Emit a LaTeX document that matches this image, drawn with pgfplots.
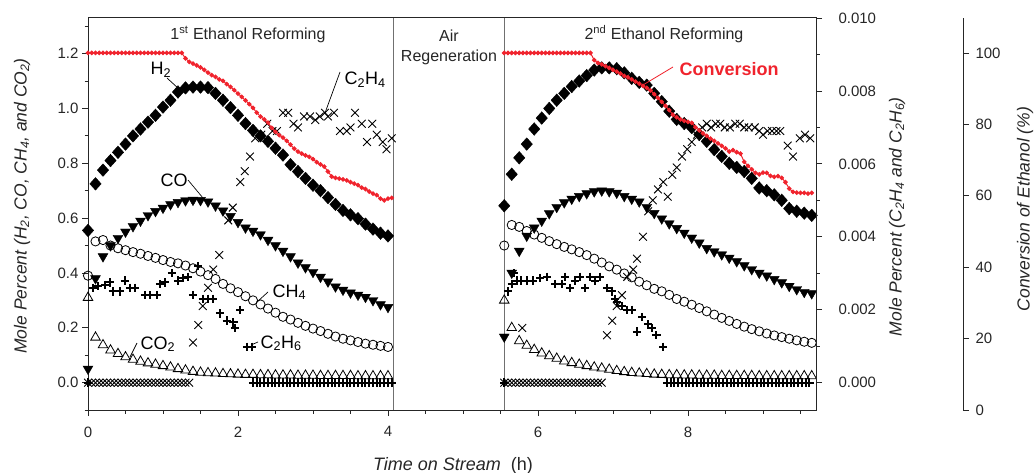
\documentclass[border=0pt]{standalone}
\usepackage{pgfplots}
\pgfplotsset{compat=1.18}
\usepackage{pgfplotstable}
\usepackage{fontspec}
\setmainfont{Liberation Sans}
\definecolor{convred}{HTML}{F0232D}
\definecolor{divgray}{HTML}{707070}

% first reforming: t, H2, CO, CH4, CO2 (mole percent)
\pgfplotstableread{
t H2 CO CH4 CO2
0.0 0.555 0.05 0.39 0.31
0.1 0.725 0.38 0.515 0.165
0.2 0.775 0.46 0.52 0.137
0.3 0.81 0.50 0.50 0.118
0.4 0.84 0.527 0.49 0.105
0.5 0.87 0.55 0.483 0.093
0.6 0.90 0.57 0.476 0.084
0.7 0.925 0.59 0.47 0.077
0.8 0.95 0.61 0.462 0.071
0.9 0.975 0.625 0.455 0.066
1.0 1.005 0.637 0.447 0.061
1.1 1.03 0.65 0.44 0.056
1.2 1.06 0.658 0.435 0.05
1.3 1.075 0.664 0.427 0.045
1.4 1.078 0.666 0.417 0.04
1.5 1.078 0.665 0.405 0.037
1.6 1.076 0.66 0.392 0.035
1.7 1.055 0.645 0.378 0.034
1.8 1.03 0.627 0.36 0.032
1.9 1.003 0.607 0.344 0.031
2.0 0.975 0.585 0.33 0.030
2.1 0.945 0.565 0.315 0.029
2.2 0.92 0.553 0.30 0.029
2.3 0.90 0.54 0.285 0.028
2.4 0.88 0.52 0.27 0.028
2.5 0.855 0.50 0.255 0.027
2.6 0.83 0.48 0.24 0.027
2.7 0.795 0.46 0.23 0.027
2.8 0.77 0.437 0.218 0.026
2.9 0.745 0.42 0.207 0.026
3.0 0.72 0.403 0.197 0.026
3.1 0.70 0.385 0.188 0.025
3.2 0.675 0.368 0.178 0.025
3.3 0.65 0.35 0.168 0.025
3.4 0.628 0.338 0.16 0.025
3.5 0.612 0.328 0.154 0.025
3.6 0.598 0.32 0.148 0.024
3.7 0.578 0.312 0.142 0.024
3.8 0.56 0.30 0.138 0.024
3.9 0.545 0.285 0.134 0.024
4.0 0.535 0.275 0.13 0.024
}\segA

% second reforming
\pgfplotstableread{
t H2 CO CH4 CO2
5.55 0.645 0.167 0.50 0.30
5.65 0.76 0.40 0.575 0.20
5.75 0.82 0.48 0.568 0.152
5.85 0.87 0.535 0.553 0.135
5.95 0.925 0.565 0.54 0.12
6.05 0.965 0.59 0.528 0.107
6.15 1.00 0.617 0.516 0.097
6.25 1.03 0.64 0.505 0.088
6.35 1.055 0.657 0.495 0.078
6.45 1.08 0.67 0.486 0.072
6.55 1.10 0.68 0.476 0.066
6.65 1.12 0.69 0.465 0.061
6.75 1.14 0.697 0.452 0.056
6.85 1.148 0.70 0.438 0.052
6.95 1.148 0.697 0.424 0.048
7.05 1.145 0.692 0.412 0.043
7.15 1.13 0.68 0.398 0.039
7.25 1.11 0.67 0.384 0.036
7.35 1.095 0.66 0.368 0.034
7.45 1.085 0.64 0.355 0.032
7.55 1.055 0.618 0.342 0.030
7.65 1.025 0.598 0.333 0.029
7.75 0.99 0.58 0.32 0.028
7.85 0.96 0.563 0.305 0.028
7.95 0.945 0.546 0.295 0.027
8.05 0.93 0.528 0.284 0.027
8.15 0.905 0.51 0.272 0.026
8.25 0.88 0.49 0.26 0.026
8.35 0.85 0.478 0.248 0.026
8.45 0.825 0.467 0.236 0.025
8.55 0.80 0.455 0.225 0.025
8.65 0.785 0.442 0.214 0.025
8.75 0.77 0.427 0.204 0.025
8.85 0.745 0.413 0.195 0.025
8.95 0.71 0.40 0.187 0.024
9.05 0.70 0.39 0.179 0.024
9.15 0.685 0.377 0.172 0.024
9.25 0.665 0.365 0.166 0.024
9.35 0.635 0.352 0.16 0.024
9.45 0.625 0.34 0.154 0.024
9.55 0.618 0.33 0.149 0.024
9.65 0.61 0.325 0.145 0.024
}\segB

\begin{document}
\begin{tikzpicture}[x=1pt,y=1pt]
\useasboundingbox (0,0) rectangle (1034,472);
\pgfplotsset{
  base/.style={at={(88pt,62pt)}, anchor=south west, width=728pt, height=392pt,
    scale only axis, xmin=0, xmax=9.707, clip=false,
    tick label style={font=\fontsize{15}{18}\selectfont, black!85},
    /pgf/number format/assume math mode=true,
    major tick length=6pt, minor tick length=3.5pt, tick align=outside,
    axis line style={line width=1pt, black!85},
    every tick/.style={line width=0.8pt, black!85}},
  h2/.style={only marks, mark=diamond*, mark size=6.3pt, black, mark options={xscale=1.2}},
  co/.style={only marks, mark=triangle*, mark size=5.7pt, black, mark options={rotate=180}},
  ch4/.style={only marks, mark=o, mark size=4.6pt, black, mark options={line width=0.8pt}},
  co2/.style={only marks, mark=triangle, mark size=5.5pt, black, mark options={line width=0.8pt}},
  c2h4/.style={only marks, mark=x, mark size=5.5pt, black, mark options={line width=0.9pt}},
  c2h6/.style={only marks, mark=+, mark size=4.2pt, black, mark options={line width=2pt}},
  conv/.style={convred, line width=1pt, mark=*, mark size=1.8pt, mark options={convred}},
}

% ---- axis 1: H2, CO, CH4, CO2 (left scale)
\begin{axis}[base, ymin=-0.1, ymax=1.33, tick pos=left,
  xtick={0,2,4,6,8},
  minor xtick={0.5,1,1.5,2.5,3,3.5,4.5,5,5.5,6.5,7,7.5,8.5,9,9.5},
  xticklabel style={yshift=-7pt},
  ytick={0,0.2,0.4,0.6,0.8,1.0,1.2},
  minor ytick={-0.1,0.1,0.3,0.5,0.7,0.9,1.1,1.3},
  yticklabel style={/pgf/number format/fixed, /pgf/number format/fixed zerofill, /pgf/number format/precision=1}]
\draw[divgray, line width=1pt] (axis cs:4.08,-0.1) -- (axis cs:4.08,1.33);
\draw[divgray, line width=1pt] (axis cs:5.55,-0.1) -- (axis cs:5.55,1.33);
\addplot[co2] table[x=t, y=CO2] {\segA};
\addplot[co2] table[x=t, y=CO2] {\segB};
\addplot[ch4] table[x=t, y=CH4] {\segA};
\addplot[ch4] table[x=t, y=CH4] {\segB};
\addplot[co] table[x=t, y=CO] {\segA};
\addplot[co] table[x=t, y=CO] {\segB};
\addplot[h2] table[x=t, y=H2] {\segA};
\addplot[h2] table[x=t, y=H2] {\segB};
\end{axis}

% ---- axis 2: C2H4, C2H6 (right scale)
\begin{axis}[base, ymin=-0.00075, ymax=0.010, axis y line*=right, axis x line=none,
  y axis line style={-},
  ytick={0,0.002,0.004,0.006,0.008,0.010},
  minor ytick={0.001,0.003,0.005,0.007,0.009},
  scaled y ticks=false,
  yticklabel style={xshift=13pt, /pgf/number format/fixed, /pgf/number format/fixed zerofill, /pgf/number format/precision=3}]
% C2H4, first reforming
\addplot[c2h4] coordinates {(0,0) (0.05,0) (0.10,0) (0.15,0) (0.20,0) (0.25,0) (0.30,0) (0.35,0) (0.40,0) (0.45,0) (0.50,0) (0.55,0) (0.60,0) (0.65,0) (0.70,0) (0.75,0) (0.80,0) (0.85,0) (0.90,0) (0.95,0) (1.00,0) (1.05,0) (1.10,0) (1.15,0) (1.20,0) (1.25,0) (1.30,0) (1.35,0)
 (1.40,0.0011) (1.47,0.00158) (1.53,0.0021) (1.60,0.0026) (1.67,0.0031) (1.75,0.0035) (1.87,0.00445) (1.93,0.0048) (2.03,0.0055) (2.09,0.0058) (2.16,0.0062) (2.23,0.0067) (2.31,0.0068) (2.39,0.0071) (2.46,0.0069) (2.52,0.0069) (2.60,0.0074) (2.67,0.0074) (2.74,0.0071) (2.80,0.0070) (2.88,0.0073) (2.96,0.0073) (3.03,0.0072) (3.09,0.0073) (3.16,0.0074) (3.20,0.0073) (3.28,0.0074) (3.36,0.0069) (3.45,0.0069) (3.50,0.0070) (3.56,0.0074) (3.65,0.0071) (3.72,0.0066) (3.79,0.0071) (3.85,0.0068) (3.93,0.0066) (3.98,0.0064) (4.05,0.0067)};
% C2H4, second reforming
\addplot[c2h4] coordinates {(5.55,0) (5.60,0) (5.65,0) (5.70,0) (5.75,0) (5.80,0) (5.85,0) (5.90,0) (5.95,0) (6.00,0) (6.05,0) (6.10,0) (6.15,0) (6.20,0) (6.25,0) (6.30,0) (6.35,0) (6.40,0) (6.45,0) (6.50,0) (6.55,0) (6.60,0) (6.65,0) (6.70,0) (6.75,0) (6.80,0) (6.85,0) (5.79,0.0015)
 (6.92,0.0013) (6.99,0.0017) (7.05,0.0021) (7.12,0.0024) (7.19,0.0029) (7.27,0.0031) (7.32,0.0034) (7.40,0.0040) (7.47,0.0047) (7.53,0.0050) (7.60,0.0053) (7.67,0.0055) (7.73,0.0051) (7.79,0.0057) (7.85,0.0059) (7.92,0.0062) (7.99,0.0064) (8.05,0.0066) (8.12,0.0068) (8.19,0.0070) (8.25,0.0071) (8.31,0.0070) (8.37,0.0071) (8.43,0.0071) (8.49,0.0070) (8.56,0.0070) (8.63,0.0071) (8.69,0.0071) (8.75,0.0070) (8.81,0.0070) (8.89,0.0070) (8.95,0.0069) (9.00,0.0068) (9.06,0.0069) (9.12,0.0069) (9.18,0.0069) (9.23,0.0069) (9.33,0.0065) (9.40,0.0062) (9.49,0.0067) (9.56,0.0068) (9.63,0.0067)};
% C2H6, first reforming
\addplot[c2h6] coordinates {(0,0) (0.07,0.0026) (0.13,0.00265) (0.23,0.00268) (0.29,0.00275) (0.33,0.0025) (0.43,0.0025) (0.49,0.0028) (0.56,0.0026) (0.63,0.0026) (0.76,0.0024) (0.83,0.0024) (0.92,0.0024) (0.96,0.0027) (1.03,0.00275) (1.12,0.0030) (1.20,0.0028) (1.27,0.00287) (1.33,0.0029) (1.40,0.0024) (1.47,0.0032) (1.53,0.0023) (1.60,0.0023) (1.67,0.0023) (1.76,0.0019) (1.85,0.0017) (1.94,0.00165) (1.96,0.0015) (2.03,0.0020) (2.12,0.00098) (2.19,0.00098)
 (2.20,0) (2.25,0) (2.30,0) (2.35,0) (2.40,0) (2.45,0) (2.50,0) (2.55,0) (2.60,0) (2.65,0) (2.70,0) (2.75,0) (2.80,0) (2.85,0) (2.90,0) (2.95,0) (3.00,0) (3.05,0) (3.10,0) (3.15,0) (3.20,0) (3.25,0) (3.30,0) (3.35,0) (3.40,0) (3.45,0) (3.50,0) (3.55,0) (3.60,0) (3.65,0) (3.70,0) (3.75,0) (3.80,0) (3.85,0) (3.90,0) (3.95,0) (4.00,0) (4.05,0)};
% C2H6, second reforming
\addplot[c2h6] coordinates {(5.55,0) (5.60,0.0025) (5.65,0.0027) (5.68,0.0030) (5.72,0.0028) (5.78,0.0028) (5.85,0.0028) (5.93,0.0028) (6.03,0.00287) (6.12,0.0029) (6.23,0.0027) (6.32,0.0027) (6.36,0.0029) (6.43,0.0026) (6.49,0.0028) (6.56,0.0029) (6.63,0.0026) (6.69,0.0029) (6.76,0.0028) (6.83,0.0029) (6.92,0.0026) (6.99,0.0025) (7.03,0.0023) (7.05,0.0022) (7.12,0.0021) (7.19,0.0020) (7.25,0.0020) (7.32,0.0014) (7.39,0.0018) (7.47,0.0016) (7.52,0.0015) (7.58,0.0013) (7.67,0.00098)
 (7.72,0) (7.77,0) (7.82,0) (7.87,0) (7.92,0) (7.97,0) (8.02,0) (8.07,0) (8.12,0) (8.17,0) (8.22,0) (8.27,0) (8.32,0) (8.37,0) (8.42,0) (8.47,0) (8.52,0) (8.57,0) (8.62,0) (8.67,0) (8.72,0) (8.77,0) (8.82,0) (8.87,0) (8.92,0) (8.97,0) (9.02,0) (9.07,0) (9.12,0) (9.17,0) (9.22,0) (9.27,0) (9.32,0) (9.37,0) (9.42,0) (9.47,0) (9.52,0) (9.57,0) (9.62,0)};
\end{axis}

% ---- axis 3: ethanol conversion (third scale)
\begin{axis}[base, ymin=0, ymax=109.8, hide axis]
\addplot[conv] coordinates {(0,100) (0.05,100) (0.10,100) (0.15,100) (0.20,100) (0.25,100) (0.30,100) (0.35,100) (0.40,100) (0.45,100) (0.50,100) (0.55,100) (0.60,100) (0.65,100) (0.70,100) (0.75,100) (0.80,100) (0.85,100) (0.90,100) (0.95,100) (1.00,100) (1.05,100) (1.10,100) (1.15,100) (1.20,100) (1.25,100)
 (1.30,98.5) (1.35,97.5) (1.40,97.0) (1.45,96.5) (1.50,96.0) (1.55,95.3) (1.60,94.5) (1.65,93.8) (1.70,93.3) (1.75,92.6) (1.80,92.2) (1.85,91.3) (1.90,90.5) (1.95,89.6) (2.00,88.6) (2.05,87.7) (2.10,86.7) (2.15,85.7) (2.20,84.6) (2.25,83.3) (2.30,82.2) (2.35,81.4) (2.40,80.5) (2.45,79.0) (2.50,77.9) (2.55,77.0) (2.60,76.3) (2.65,75.4) (2.70,74.3) (2.75,73.2) (2.80,72.4) (2.85,71.8) (2.90,71.3) (2.95,70.9) (3.00,70.3) (3.05,69.4) (3.10,68.8) (3.15,68.2) (3.20,66.8) (3.25,65.4) (3.30,65.0) (3.35,64.8) (3.40,64.6) (3.45,64.3) (3.50,63.8) (3.55,63.4) (3.60,63.0) (3.65,62.3) (3.70,61.9) (3.75,61.2) (3.80,60.6) (3.85,60.2) (3.90,59.2) (3.95,58.7) (4.00,59.2) (4.05,59.4)};
\addplot[conv] coordinates {(5.55,100) (5.60,100) (5.65,100) (5.70,100) (5.75,100) (5.80,100) (5.85,100) (5.90,100) (5.95,100) (6.00,100) (6.05,100) (6.10,100) (6.15,100) (6.20,100) (6.25,100) (6.30,100) (6.35,100) (6.40,100) (6.45,100) (6.50,100) (6.55,100) (6.60,100) (6.65,100) (6.70,100)
 (6.75,98.0) (6.80,97.2) (6.85,96.8) (6.90,96.3) (6.95,95.8) (7.00,95.3) (7.05,94.8) (7.10,94.2) (7.15,93.6) (7.20,93.2) (7.25,92.6) (7.30,92.0) (7.35,91.4) (7.40,90.8) (7.45,90.2) (7.50,89.5) (7.55,88.5) (7.60,87.4) (7.65,86.3) (7.70,85.2) (7.75,84.0) (7.80,82.7) (7.85,82.0) (7.90,81.4) (7.95,81.0) (8.00,80.7) (8.05,80.4) (8.10,79.2) (8.15,78.3) (8.20,77.5) (8.25,76.8) (8.30,76.0) (8.35,75.4) (8.40,74.7) (8.45,74.0) (8.50,73.3) (8.55,72.4) (8.60,72.8) (8.65,72.2) (8.70,71.8) (8.75,69.5) (8.80,68.4) (8.85,67.4) (8.90,66.4) (8.95,66.0) (9.00,66.5) (9.05,66.4) (9.10,65.6) (9.15,65.3) (9.20,65.5) (9.25,65.0) (9.30,63.8) (9.35,62.0) (9.40,61.1) (9.45,60.9) (9.50,60.8) (9.55,60.8) (9.60,60.6) (9.65,60.8)};
\end{axis}

% ---- axis 4: the conversion scale, drawn apart
\begin{axis}[at={(963pt,62pt)}, anchor=south east, width=20pt, height=392pt, scale only axis,
  xmin=0, xmax=1, ymin=0, ymax=109.8,
  axis y line=right, axis x line=none, y axis line style={-, line width=1pt, black!85},
  ytick={0,20,40,60,80,100}, tick align=outside, major tick length=6pt,
  every tick/.style={line width=0.8pt, black!85},
  tick label style={font=\fontsize{15}{18}\selectfont, black!85},
  yticklabel style={xshift=3pt},
  /pgf/number format/assume math mode=true]
\end{axis}

% ---- texts
\node[anchor=base, font=\fontsize{16}{19}\selectfont, black!85] at (248,432) {1\textsuperscript{st} Ethanol Reforming};
\node[anchor=base, font=\fontsize{16}{19}\selectfont, black!85] at (449,430) {Air};
\node[anchor=base, font=\fontsize{16}{19}\selectfont, black!85] at (449,410) {Regeneration};
\node[anchor=base, font=\fontsize{16}{19}\selectfont, black!85] at (664,432) {2\textsuperscript{nd} Ethanol Reforming};

\node[anchor=base west, font=\fontsize{18}{21}\selectfont] at (147,397) {H\textsubscript{2}};
\draw[black, line width=0.7pt] (167,394) -- (179,383);
\node[anchor=base west, font=\fontsize{18}{21}\selectfont] at (341,387) {C\textsubscript{2}H\textsubscript{4}};
\draw[black, line width=0.7pt] (340,400) -- (325,359);
\node[anchor=base west, font=\fontsize{18}{21}\selectfont] at (157,285) {CO};
\draw[black, line width=0.7pt] (188,292) -- (203,274);
\node[anchor=base west, font=\fontsize{18}{21}\selectfont] at (269,175) {CH\textsubscript{4}};
\draw[black, line width=0.7pt] (268,180) -- (257,170);
\node[anchor=base west, font=\fontsize{18}{21}\selectfont] at (137,123) {CO\textsubscript{2}};
\draw[black, line width=0.7pt] (137,129) -- (130,115);
\node[anchor=base west, font=\fontsize{18}{21}\selectfont] at (257,124) {C\textsubscript{2}H\textsubscript{6}};
\draw[black, line width=0.7pt] (258,130) -- (251,127);
\node[anchor=base west, font=\bfseries\fontsize{18}{21}\selectfont, convred] at (676,396) {Conversion};
\draw[convred, line width=0.8pt] (673,405) -- (643,387);

\node[rotate=90, font=\itshape\fontsize{17.5}{21}\selectfont, black!85] at (22,266) {Mole Percent (H\textsubscript{2}, CO, CH\textsubscript{4}, and CO\textsubscript{2})};
\node[rotate=90, font=\itshape\fontsize{17.5}{21}\selectfont, black!85] at (897,255) {Mole Percent (C\textsubscript{2}H\textsubscript{4} and C\textsubscript{2}H\textsubscript{6})};
\node[rotate=90, font=\itshape\fontsize{17.5}{21}\selectfont, black!85] at (1025,263) {Conversion of Ethanol (\%)};
\node[anchor=base, font=\fontsize{18}{21}\selectfont, black!85] at (453,2) {\textit{Time on Stream}\ \ (h)};
\end{tikzpicture}
\end{document}
